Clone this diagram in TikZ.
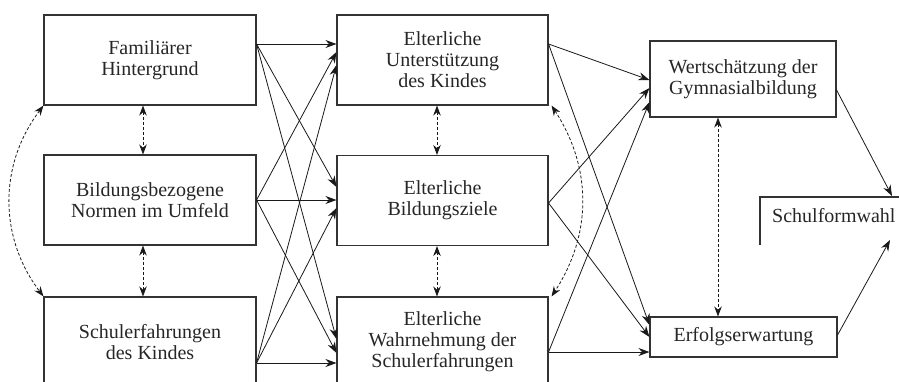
\documentclass[tikz,border=0pt]{standalone}
\usepackage{fontspec}
\setmainfont{Liberation Serif}
\usetikzlibrary{arrows.meta,calc}
\begin{document}
\begin{tikzpicture}[x=1pt,y=-1pt,
  box/.style={draw=black!80,line width=1.1pt,inner sep=0pt,align=center,
    font=\fontsize{20}{21}\selectfont,text=black!85},
  col/.style={box,minimum width=212pt,minimum height=90pt},
  arr/.style={-{Stealth[length=11pt,width=8pt]},line width=0.8pt,black!90},
  darr/.style={{Stealth[length=10pt,width=7.5pt]}-{Stealth[length=10pt,width=7.5pt]},
    dash pattern=on 3pt off 2pt,line width=0.8pt,black!90}]
\path[use as bounding box,clip] (0,0) rectangle (899,381);
% left column
\node[col] (fam)   at (150,60)  {Familiärer\\Hintergrund};
\node[col] (norm)  at (150,200) {Bildungsbezogene\\Normen im Umfeld};
\node[col] (schul) at (150,342) {Schulerfahrungen\\des Kindes};
% middle column
\node[col,minimum width=211pt] (unt)  at (442.5,60)  {Elterliche\\Unterstützung\\des Kindes};
\node[col,minimum width=211pt] (ziel) at (442.5,200.5) {Elterliche\\Bildungsziele};
\node[col,minimum width=211pt] (wahr) at (442.5,342) {Elterliche\\Wahrnehmung der\\Schulerfahrungen};
% right column
\node[box,minimum width=186pt,minimum height=76pt] (wert) at (743,79) {Wertschätzung der\\Gymnasialbildung};
\node[box,minimum width=187pt,minimum height=40pt] (erf) at (743.5,337) {Erfolgserwartung};
% Schulformwahl (partly cut off)
\node[font=\fontsize{20}{21}\selectfont,text=black!85,anchor=base west,inner sep=0pt] (sfw) at (772,222) {Schulformwahl};
\coordinate (sfwTL) at (760,197);
\coordinate (sfwIn1) at (892,196);
\coordinate (sfwIn2) at (890,240);
\draw[black!80,line width=1.1pt] ($(sfwTL)+(0,48)$) -- (sfwTL) -- ($(sfwTL)+(150,0)$);
% left -> middle
\coordinate (fS) at (fam.east |- 0,44);
\coordinate (nS) at (norm.east |- 0,200);
\coordinate (sS) at (schul.east |- 0,363);
\draw[arr] (fS) -- (unt.west |- 0,44);
\draw[arr] (fS) -- (ziel.west |- 0,187);
\draw[arr] (fS) -- (wahr.west |- 0,339);
\draw[arr] (nS) -- (unt.west |- 0,52);
\draw[arr] (nS) -- (ziel.west |- 0,200);
\draw[arr] (nS) -- (wahr.west |- 0,353);
\draw[arr] (sS) -- (unt.west |- 0,65);
\draw[arr] (sS) -- (ziel.west |- 0,208);
\draw[arr] (sS) -- (wahr.west |- 0,363);
% middle -> right
\coordinate (uS) at (unt.east |- 0,44);
\coordinate (zS) at (ziel.east |- 0,203);
\coordinate (wS) at (wahr.east |- 0,352);
\draw[arr] (uS) -- (wert.west |- 0,80);
\draw[arr] (uS) -- (erf.west |- 0,325);
\draw[arr] (zS) -- (wert.west |- 0,88);
\draw[arr] (zS) -- (erf.west |- 0,337);
\draw[arr] (wS) -- (wert.west |- 0,102);
\draw[arr] (wS) -- (erf.west |- 0,352);
% right -> Schulformwahl
\draw[arr] (wert.east |- 0,90) -- (sfwIn1);
\draw[arr] (erf.east |- 0,335) -- (sfwIn2);
% dashed correlations
\draw[darr] (fam.south -| 143,0) -- (norm.north -| 143,0);
\draw[darr] (norm.south -| 143,0) -- (schul.north -| 143,0);
\draw[darr] (unt.south -| 437,0) -- (ziel.north -| 437,0);
\draw[darr] (ziel.south -| 437,0) -- (wahr.north -| 437,0);
\draw[darr] (wert.south -| 718,0) -- (erf.north -| 718,0);
\draw[darr] (fam.south west) to[bend right=37] (schul.north west);
\draw[darr] ($(unt.south east)+(3,0)$) to[bend left=33] ($(wahr.north east)+(3,0)$);
\end{tikzpicture}
\end{document}
